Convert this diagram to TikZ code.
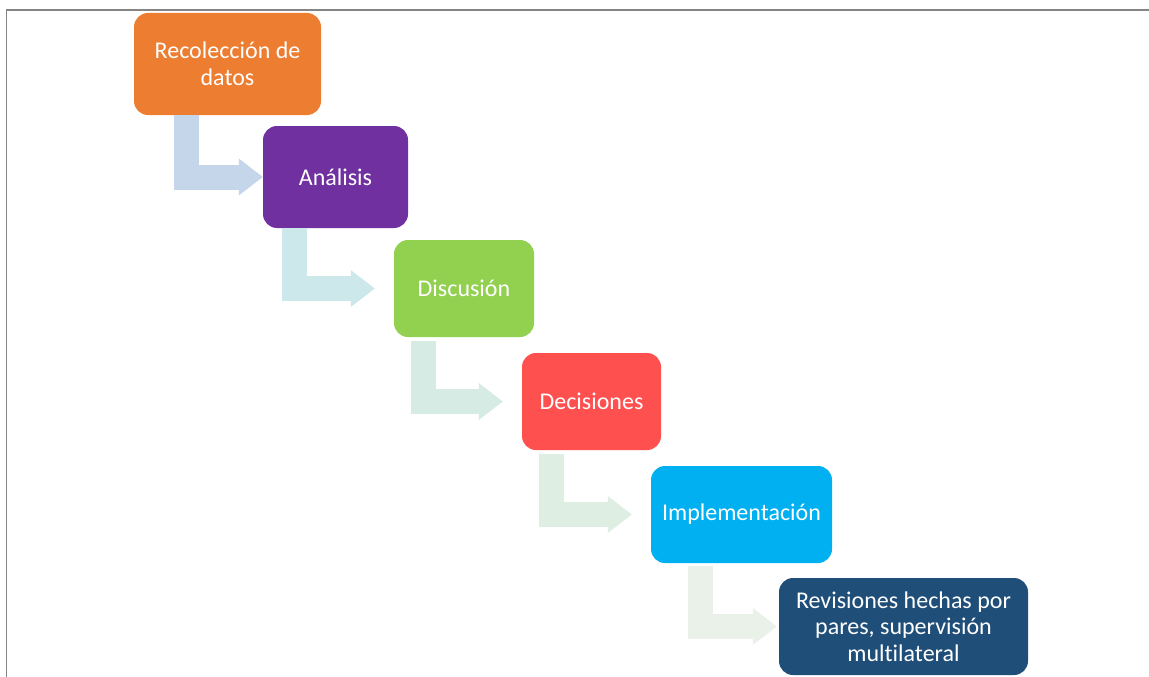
\documentclass[tikz,border=0pt]{standalone}
\usepackage{fontspec}
\setmainfont{Carlito}[Ligatures={NoCommon}]
\usetikzlibrary{arrows.meta}
\definecolor{cOrange}{HTML}{ED7D31}
\definecolor{cPurple}{HTML}{7030A0}
\definecolor{cGreen}{HTML}{92D050}
\definecolor{cRed}{HTML}{FF5050}
\definecolor{cCyan}{HTML}{00B0F0}
\definecolor{cNavy}{HTML}{1F4E79}
\definecolor{aOne}{HTML}{C5D5EA}
\definecolor{aTwo}{HTML}{CDE8EB}
\definecolor{aThree}{HTML}{D6EBE4}
\definecolor{aFour}{HTML}{DEEEE2}
\definecolor{aFive}{HTML}{E9F1E9}
\definecolor{frameGray}{HTML}{858585}
\begin{document}
\begin{tikzpicture}[x=1pt,y=-1pt,
  box/.style={rounded corners=14pt, fill=#1, text=white, align=center,
    font=\fontsize{24}{26.5}\selectfont, inner sep=0pt},
  bent/.style={draw=#1, line width=25pt, line join=miter, line cap=butt,
    -{Triangle[length=24pt,width=37pt,line width=0pt,fill=#1]}}]
\useasboundingbox (0,0) rectangle (1149,677);
\draw[frameGray, line width=1.6pt] (6.5,677) -- (6.5,9.8) -- (1149,9.8);

\node[box=cOrange, minimum width=187pt, minimum height=102pt] (n1) at (227.5,64) {Recolección de\\datos};
\node[box=cPurple, minimum width=145pt, minimum height=102pt] (n2) at (335.5,177) {Análisis};
\node[box=cGreen, minimum width=140pt, minimum height=97pt] (n3) at (464,288.5) {Discusión};
\node[box=cRed, minimum width=139pt, minimum height=97pt] (n4) at (591.5,401.5) {Decisiones};
\node[box=cCyan, minimum width=181pt, minimum height=97pt] (n5) at (741.5,514.5) {Implementación};
\node[box=cNavy, minimum width=249pt, minimum height=97pt] (n6) at (903.5,626.5) {Revisiones hechas por\\pares, supervisión\\multilateral};

\coordinate (s1) at (186.5,115);
\coordinate (s2) at (294.5,228);
\coordinate (s3) at (423.5,341);
\coordinate (s4) at (551.5,454);
\coordinate (s5) at (700.5,566);

\draw[bent=aOne] (s1) |- (n2.west);
\draw[bent=aTwo, shorten >=19pt] (s2) |- (n3.west);
\draw[bent=aThree, shorten >=19pt] (s3) |- (n4.west);
\draw[bent=aFour, shorten >=19pt] (s4) |- (n5.west);
\draw[bent=aFive, shorten >=2pt] (s5) |- (n6.west);
\end{tikzpicture}
\end{document}
